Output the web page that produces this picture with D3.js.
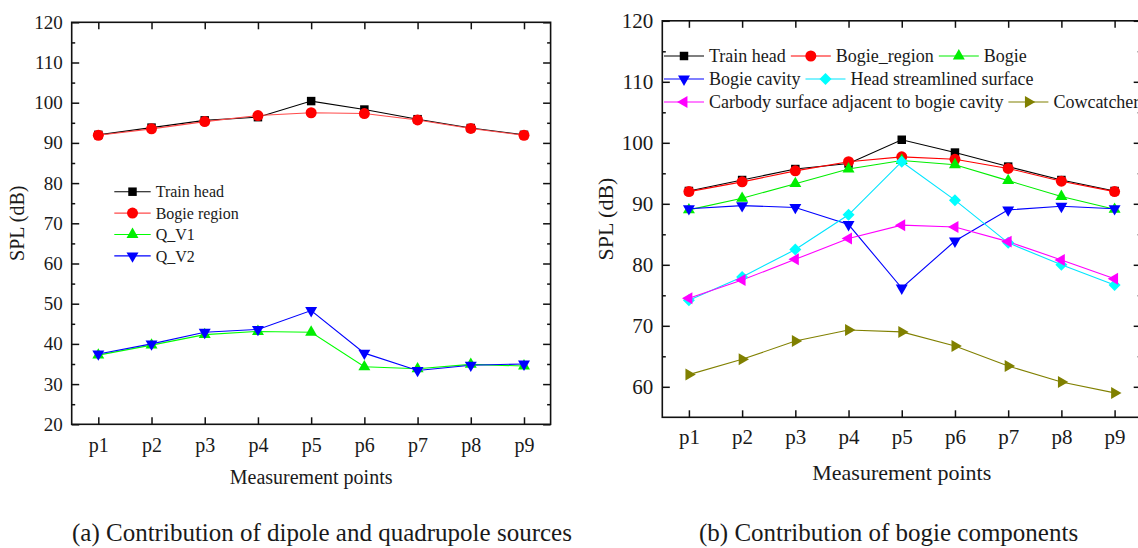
<!DOCTYPE html>
<html>
<head>
<meta charset="utf-8">
<script src="https://cdn.jsdelivr.net/npm/d3@7"></script>
<style>
  body { margin: 0; background: #fff; }
  svg { display: block; }
  svg text { font-family: 'Liberation Serif', 'Times New Roman', serif; fill: #1a1a1a; }
</style>
</head>
<body>
<svg id="chart" width="1138" height="548"></svg>
<script>
var points = [ 'p1', 'p2', 'p3', 'p4', 'p5', 'p6', 'p7', 'p8', 'p9' ];

// (a) dipole and quadrupole sources
var trainHeadA = [ 92.0, 93.8, 95.6, 96.4, 100.4, 98.3, 95.9, 93.7, 92.0 ];
var bogieRegionA = [ 91.9, 93.5, 95.3, 96.8, 97.5, 97.3, 95.7, 93.6, 91.9 ];
var qV1 = [ 37.2, 39.7, 42.3, 43.1, 42.9, 34.3, 33.8, 34.9, 34.5 ];
var qV2 = [ 37.5, 40.0, 42.9, 43.6, 48.3, 37.7, 33.4, 34.7, 35.0 ];

// (b) bogie components
var trainHeadB = [ 92.1, 93.9, 95.7, 96.6, 100.5, 98.4, 96.1, 93.9, 92.1 ];
var bogieRegionB = [ 92.0, 93.6, 95.4, 96.9, 97.7, 97.3, 95.8, 93.7, 92.0 ];
var bogie = [ 89.0, 90.9, 93.3, 95.7, 97.1, 96.4, 93.8, 91.2, 89.1 ];
var bogieCavity = [ 89.2, 89.7, 89.4, 86.6, 76.2, 83.9, 89.0, 89.6, 89.2 ];
var headSurface = [ 74.2, 78.0, 82.5, 88.2, 96.9, 90.6, 83.6, 80.0, 76.7 ];
var carbody = [ 74.5, 77.5, 80.9, 84.3, 86.5, 86.2, 83.8, 80.8, 77.7 ];
var cowcatcher = [ 62.0, 64.5, 67.5, 69.3, 69.0, 66.7, 63.4, 60.8, 59.0 ];

var svg = d3.select( '#chart' );

var panelA = {
  left: 71.7, right: 550.6, top: 22.3, bottom: 424.3,
  yDomain: [ 20, 120 ], yTicks: d3.range( 20, 121, 10 ), yMinor: d3.range( 25, 120, 10 ),
  yFont: 19, xFont: 20, titleFont: 20, xLabelY: 452, titleY: 484, yTitleX: 24,
  caption: '(a) Contribution of dipole and quadrupole sources', captionX: 72,
  series: [
    { name: 'Train head', values: trainHeadA, color: '#000', line: '#000', shape: 'square' },
    { name: 'Bogie region', values: bogieRegionA, color: '#ff0000', line: '#ff4a4a', shape: 'circle' },
    { name: 'Q_V1', values: qV1, color: '#00ee00', line: '#00ff00', shape: 'up' },
    { name: 'Q_V2', values: qV2, color: '#0000ff', line: '#0000ff', shape: 'down' }
  ]
};

var panelB = {
  left: 662.3, right: 1141.2, top: 20.8, bottom: 417.3,
  yDomain: [ 55, 120 ], yTicks: d3.range( 60, 121, 10 ), yMinor: d3.range( 65, 120, 10 ),
  yFont: 21, xFont: 21, titleFont: 22, xLabelY: 444, titleY: 480, yTitleX: 613,
  caption: '(b) Contribution of bogie components', captionX: 699,
  series: [
    { name: 'Train head', values: trainHeadB, color: '#000', line: '#000', shape: 'square' },
    { name: 'Bogie_region', values: bogieRegionB, color: '#ff0000', line: '#ff0000', shape: 'circle' },
    { name: 'Bogie', values: bogie, color: '#00ee00', line: '#00ee00', shape: 'up' },
    { name: 'Bogie cavity', values: bogieCavity, color: '#0000ff', line: '#0000ff', shape: 'down' },
    { name: 'Head streamlined surface', values: headSurface, color: '#00ffff', line: '#00e5ff', shape: 'diamond' },
    { name: 'Carbody surface adjacent to bogie cavity', values: carbody, color: '#ff00ff', line: '#ff00ff', shape: 'left' },
    { name: 'Cowcatcher', values: cowcatcher, color: '#808000', line: '#808000', shape: 'right' }
  ]
};

function marker( sel, shape ) {
  var sym = d3.symbol(), rot = 0;
  if ( shape === 'square' ) sym.type( d3.symbolSquare ).size( 72 );
  else if ( shape === 'circle' ) sym.type( d3.symbolCircle ).size( 95 );
  else if ( shape === 'diamond' ) { sym.type( d3.symbolSquare ).size( 72 ); rot = 45; }
  else {
    sym.type( d3.symbolTriangle ).size( 62 );
    rot = { up: 0, down: 180, left: -90, right: 90 }[ shape ];
  }
  return sel.attr( 'd', sym ).attr( 'data-rot', rot );
}

function draw_panel( p ) {

  var x = d3.scaleLinear().domain( [ 0.5, 9.5 ] ).range( [ p.left, p.right ] );
  var y = d3.scaleLinear().domain( p.yDomain ).range( [ p.bottom, p.top ] );
  var g = svg.append( 'g' );

  // frame
  g.append( 'rect' )
    .attr( 'x', p.left ).attr( 'y', p.top )
    .attr( 'width', p.right - p.left ).attr( 'height', p.bottom - p.top )
    .style( 'fill', 'none' ).style( 'stroke', '#111' ).style( 'stroke-width', 1.6 );

  var xt = points.map( ( d, i ) => i + 1 );

  var ax = g.append( 'g' )
    .attr( 'transform', 'translate(0,' + p.bottom + ')' )
    .call( d3.axisBottom( x ).tickValues( xt ).tickSize( -7 ).tickPadding( 10 )
      .tickFormat( d => points[ d - 1 ] ) );
  ax.selectAll( 'text' ).style( 'font-size', p.xFont + 'px' ).attr( 'y', null )
    .attr( 'dy', null ).attr( 'transform', 'translate(0,' + ( p.xLabelY - p.bottom ) + ')' );

  g.append( 'g' )
    .attr( 'transform', 'translate(0,' + p.top + ')' )
    .call( d3.axisTop( x ).tickValues( xt ).tickSize( -7 ).tickFormat( '' ) );

  var ay = g.append( 'g' )
    .attr( 'transform', 'translate(' + p.left + ',0)' )
    .call( d3.axisLeft( y ).tickValues( p.yTicks ).tickSize( -7.5 ).tickPadding( 9 ).tickFormat( d3.format( 'd' ) ) );
  ay.selectAll( 'text' ).style( 'font-size', p.yFont + 'px' );

  g.append( 'g' )
    .attr( 'transform', 'translate(' + p.left + ',0)' )
    .call( d3.axisLeft( y ).tickValues( p.yMinor ).tickSize( -3.5 ).tickFormat( '' ) );

  g.append( 'g' )
    .attr( 'transform', 'translate(' + p.right + ',0)' )
    .call( d3.axisRight( y ).tickValues( p.yTicks ).tickSize( -7.5 ).tickFormat( '' ) );

  g.append( 'g' )
    .attr( 'transform', 'translate(' + p.right + ',0)' )
    .call( d3.axisRight( y ).tickValues( p.yMinor ).tickSize( -3.5 ).tickFormat( '' ) );

  g.selectAll( '.domain' ).remove();
  g.selectAll( '.tick line' ).style( 'stroke', '#111' ).style( 'stroke-width', 1.5 );

  // titles
  g.append( 'text' )
    .attr( 'x', ( p.left + p.right ) / 2 ).attr( 'y', p.titleY )
    .attr( 'text-anchor', 'middle' ).style( 'font-size', p.titleFont + 'px' )
    .text( 'Measurement points' );

  g.append( 'text' )
    .attr( 'transform', 'translate(' + p.yTitleX + ',' + ( p.top + p.bottom ) / 2 + ') rotate(-90)' )
    .attr( 'text-anchor', 'middle' ).style( 'font-size', p.titleFont + 'px' )
    .text( 'SPL (dB)' );

  g.append( 'text' )
    .attr( 'x', p.captionX ).attr( 'y', 541 )
    .style( 'font-size', '25px' )
    .text( p.caption );

  // series
  var line = d3.line()
    .x( ( d, i ) => x( i + 1 ) )
    .y( d => y( d ) );

  p.series.forEach( s => {
    g.append( 'path' )
      .attr( 'd', line( s.values ) )
      .style( 'fill', 'none' ).style( 'stroke', s.line ).style( 'stroke-width', 1.1 );
  } );

  p.series.forEach( s => {
    g.selectAll( null )
      .data( s.values ).enter().append( 'path' )
        .call( marker, s.shape )
        .attr( 'transform', function( d, i ) {
          return 'translate(' + x( i + 1 ) + ',' + y( d ) + ') rotate(' + this.getAttribute( 'data-rot' ) + ')';
        } )
        .style( 'fill', s.color );
  } );

  return g;
}

var gA = draw_panel( panelA );
var gB = draw_panel( panelB );

/* Legend (a) */

var legA = gA.append( 'g' ).attr( 'class', 'legend' );

panelA.series.forEach( ( s, i ) => {
  var ly = 191.7 + i * 21.4;
  legA.append( 'line' )
    .attr( 'x1', 114.3 ).attr( 'x2', 150.7 ).attr( 'y1', ly ).attr( 'y2', ly )
    .style( 'stroke', s.line ).style( 'stroke-width', 1.1 );
  legA.append( 'path' )
    .call( marker, s.shape )
    .attr( 'transform', function() { return 'translate(132.5,' + ly + ') rotate(' + this.getAttribute( 'data-rot' ) + ')'; } )
    .style( 'fill', s.color );
  legA.append( 'text' )
    .attr( 'x', 155.7 ).attr( 'y', ly ).attr( 'dy', '0.35em' )
    .style( 'font-size', '16px' )
    .text( s.name );
} );

/* Legend (b) */

var legB = gB.append( 'g' ).attr( 'class', 'legend' );
var rows = [ [ 0, 1, 2 ], [ 3, 4 ], [ 5, 6 ] ];

rows.forEach( ( row, r ) => {
  var ly = 56 + r * 23,
    lx = 664;
  row.forEach( k => {
    var s = panelB.series[ k ];
    legB.append( 'line' )
      .attr( 'x1', lx ).attr( 'x2', lx + 40 ).attr( 'y1', ly ).attr( 'y2', ly )
      .style( 'stroke', s.line ).style( 'stroke-width', 1.1 );
    legB.append( 'path' )
      .call( marker, s.shape )
      .attr( 'transform', function() { return 'translate(' + ( lx + 20 ) + ',' + ly + ') rotate(' + this.getAttribute( 'data-rot' ) + ')'; } )
      .style( 'fill', s.color );
    var t = legB.append( 'text' )
      .attr( 'x', lx + 45 ).attr( 'y', ly ).attr( 'dy', '0.35em' )
      .style( 'font-size', '18px' )
      .text( s.name );
    lx = lx + 45 + t.node().getComputedTextLength() + 5;
  } );
} );

// the axis groups set their own font; use the serif face everywhere
svg.selectAll( 'g' ).attr( 'font-family', null );
svg.selectAll( 'text' ).style( 'font-family', "'Liberation Serif', 'Times New Roman', serif" ).style( 'fill', '#1a1a1a' );
</script>
</body>
</html>
